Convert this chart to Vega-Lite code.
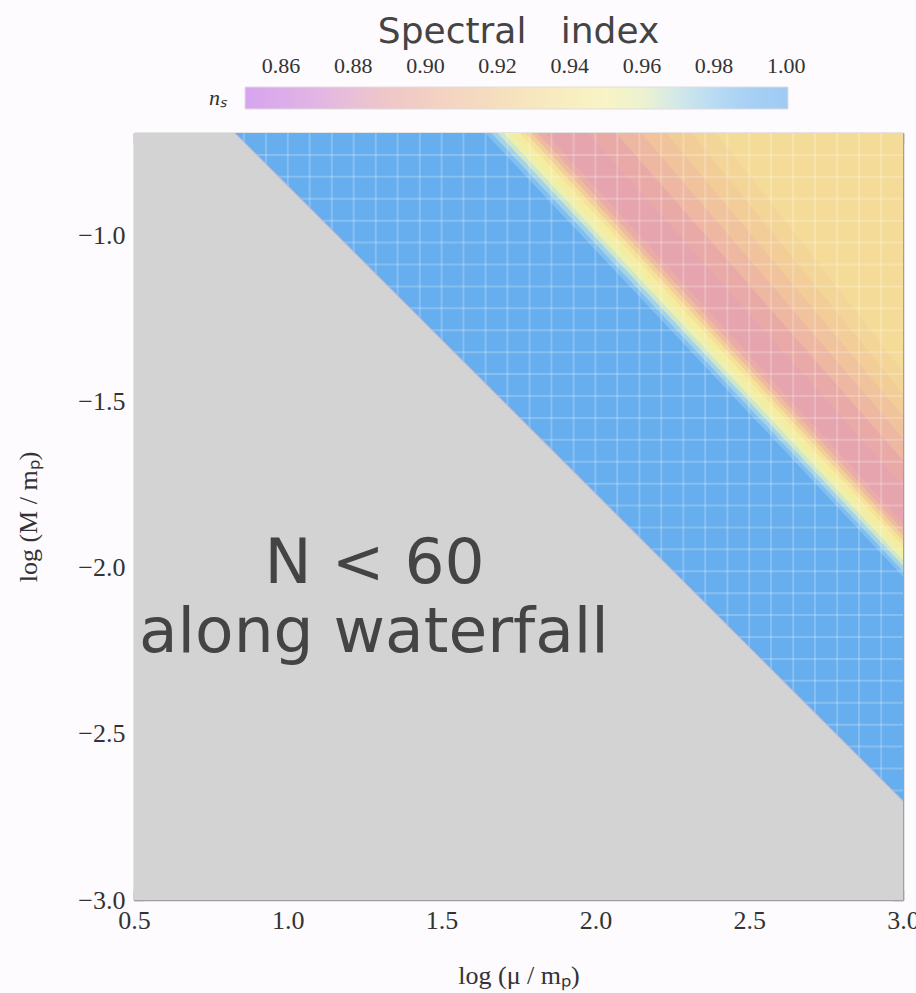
{
  "$schema": "https://vega.github.io/schema/vega-lite/v6.json",
  "width": 769,
  "height": 767,
  "autosize": {"type": "none"},
  "padding": {"left": 134, "top": 133, "right": 13, "bottom": 93},
  "background": "#fdfbfd",
  "config": {"view": {"stroke": null}},
  "title": {"text": "Spectral\u00a0\u00a0\u00a0index", "font": "DejaVu Sans", "fontSize": 36, "fontWeight": "normal", "color": "#444444", "anchor": "middle", "offset": 36},
  "datasets": {
    "gray": [
      {"y": -0.69, "xl": 0.3, "xr": 0.828},
      {"y": -3.0, "xl": 0.3, "xr": 3.322}
    ],
    "bands": [
      {"band": 0, "ns": 1.0, "y": -0.69, "xl": 0.828, "xr": 1.646},
      {"band": 0, "ns": 1.0, "y": -3.0, "xl": 3.322, "xr": 3.994},
      {"band": 1, "ns": 0.985, "y": -0.69, "xl": 1.642, "xr": 1.666},
      {"band": 1, "ns": 0.985, "y": -3.0, "xl": 3.990, "xr": 4.008},
      {"band": 2, "ns": 0.975, "y": -0.69, "xl": 1.662, "xr": 1.686},
      {"band": 2, "ns": 0.975, "y": -3.0, "xl": 4.004, "xr": 4.022},
      {"band": 3, "ns": 0.965, "y": -0.69, "xl": 1.682, "xr": 1.705},
      {"band": 3, "ns": 0.965, "y": -3.0, "xl": 4.018, "xr": 4.036},
      {"band": 4, "ns": 0.955, "y": -0.69, "xl": 1.701, "xr": 1.731},
      {"band": 4, "ns": 0.955, "y": -3.0, "xl": 4.032, "xr": 4.054},
      {"band": 5, "ns": 0.945, "y": -0.69, "xl": 1.727, "xr": 1.757},
      {"band": 5, "ns": 0.945, "y": -3.0, "xl": 4.050, "xr": 4.072},
      {"band": 6, "ns": 0.935, "y": -0.69, "xl": 1.753, "xr": 1.777},
      {"band": 6, "ns": 0.935, "y": -3.0, "xl": 4.068, "xr": 4.085},
      {"band": 7, "ns": 0.92, "y": -0.69, "xl": 1.773, "xr": 1.796},
      {"band": 7, "ns": 0.92, "y": -3.0, "xl": 4.081, "xr": 4.098},
      {"band": 8, "ns": 0.905, "y": -0.69, "xl": 1.792, "xr": 1.816},
      {"band": 8, "ns": 0.905, "y": -3.0, "xl": 4.094, "xr": 4.111},
      {"band": 9, "ns": 0.893, "y": -0.69, "xl": 1.812, "xr": 1.842},
      {"band": 9, "ns": 0.893, "y": -3.0, "xl": 4.107, "xr": 4.128},
      {"band": 10, "ns": 0.885, "y": -0.69, "xl": 1.838, "xr": 1.979},
      {"band": 10, "ns": 0.885, "y": -3.0, "xl": 4.124, "xr": 4.210},
      {"band": 11, "ns": 0.892, "y": -0.69, "xl": 1.975, "xr": 2.071},
      {"band": 11, "ns": 0.892, "y": -3.0, "xl": 4.206, "xr": 4.257},
      {"band": 12, "ns": 0.902, "y": -0.69, "xl": 2.067, "xr": 2.152},
      {"band": 12, "ns": 0.902, "y": -3.0, "xl": 4.253, "xr": 4.293},
      {"band": 13, "ns": 0.911, "y": -0.69, "xl": 2.148, "xr": 2.234},
      {"band": 13, "ns": 0.911, "y": -3.0, "xl": 4.289, "xr": 4.321},
      {"band": 14, "ns": 0.919, "y": -0.69, "xl": 2.230, "xr": 2.316},
      {"band": 14, "ns": 0.919, "y": -3.0, "xl": 4.317, "xr": 4.340},
      {"band": 15, "ns": 0.925, "y": -0.69, "xl": 2.312, "xr": 2.398},
      {"band": 15, "ns": 0.925, "y": -3.0, "xl": 4.336, "xr": 4.345},
      {"band": 16, "ns": 0.93, "y": -0.69, "xl": 2.394, "xr": 5.0},
      {"band": 16, "ns": 0.93, "y": -3.0, "xl": 4.341, "xr": 5.0}
    ],
    "meshx": [
      {"mx": 0.571}, {"mx": 0.643}, {"mx": 0.714}, {"mx": 0.786}, {"mx": 0.857}, {"mx": 0.929}, {"mx": 1.0},
      {"mx": 1.071}, {"mx": 1.143}, {"mx": 1.214}, {"mx": 1.286}, {"mx": 1.357}, {"mx": 1.429}, {"mx": 1.5},
      {"mx": 1.571}, {"mx": 1.643}, {"mx": 1.714}, {"mx": 1.786}, {"mx": 1.857}, {"mx": 1.929}, {"mx": 2.0},
      {"mx": 2.071}, {"mx": 2.143}, {"mx": 2.214}, {"mx": 2.286}, {"mx": 2.357}, {"mx": 2.429}, {"mx": 2.5},
      {"mx": 2.571}, {"mx": 2.643}, {"mx": 2.714}, {"mx": 2.786}, {"mx": 2.857}, {"mx": 2.929}
    ],
    "meshy": [
      {"my": -2.934}, {"my": -2.868}, {"my": -2.802}, {"my": -2.736}, {"my": -2.67}, {"my": -2.604}, {"my": -2.538},
      {"my": -2.472}, {"my": -2.406}, {"my": -2.34}, {"my": -2.274}, {"my": -2.208}, {"my": -2.142}, {"my": -2.076},
      {"my": -2.01}, {"my": -1.944}, {"my": -1.878}, {"my": -1.812}, {"my": -1.746}, {"my": -1.68}, {"my": -1.614},
      {"my": -1.548}, {"my": -1.482}, {"my": -1.416}, {"my": -1.35}, {"my": -1.284}, {"my": -1.218}, {"my": -1.152},
      {"my": -1.086}, {"my": -1.02}, {"my": -0.954}, {"my": -0.888}, {"my": -0.822}, {"my": -0.756}
    ],
    "edge": [
      {"bx": 0.828, "by": -0.69},
      {"bx": 3.322, "by": -3.0}
    ],
    "notes": [
      {"tx": 1.282, "ty": -2.045, "label": "N < 60"},
      {"tx": 1.280, "ty": -2.253, "label": "along waterfall"}
    ]
  },
  "layer": [
    {
      "data": {"name": "bands"},
      "mark": {"type": "area", "orient": "horizontal", "clip": true},
      "encoding": {
        "y": {"field": "y", "type": "quantitative", "axis": null},
        "x": {"field": "xl", "type": "quantitative", "stack": null, "axis": null},
        "x2": {"field": "xr"},
        "detail": {"field": "band", "type": "nominal"},
        "color": {
          "field": "ns", "type": "quantitative",
          "scale": {
            "domain": [0.85, 0.87, 0.88, 0.885, 0.89, 0.90, 0.91, 0.92, 0.93, 0.94, 0.95, 0.96, 0.97, 0.98, 0.99, 1.0, 1.0005],
            "range": ["#c070e8", "#d08cd4", "#dc9cc0", "#e6a4ae", "#e8a8a8", "#ecb4a2", "#f0c29c", "#f2ce98", "#f4dc98", "#f5e89c", "#f6f0a4", "#e4eeb4", "#b8dede", "#90c8f0", "#72b6f0", "#66aeee", "#66aeee"],
            "interpolate": "rgb"
          },
          "legend": {
            "orient": "none",
            "legendX": 75,
            "legendY": -46,
            "direction": "horizontal",
            "padding": 0,
            "gradientLength": 543,
            "gradientThickness": 22,
            "gradientOpacity": 0.62,
            "gradientStrokeColor": "#cccccc",
            "gradientStrokeWidth": 1,
            "values": [0.86, 0.88, 0.90, 0.92, 0.94, 0.96, 0.98, 1.0],
            "format": ".2f",
            "labelFont": "Liberation Serif",
            "labelFontSize": 22,
            "labelColor": "#333333",
            "labelOffset": -53,
            "labelOverlap": false,
            "title": "nₛ",
            "titleOrient": "left",
            "titleFont": "Liberation Serif",
            "titleFontStyle": "italic",
            "titleFontWeight": "normal",
            "titleFontSize": 22,
            "titleColor": "#333333",
            "titlePadding": 18
          }
        }
      }
    },
    {
      "data": {"name": "meshx"},
      "mark": {"type": "rule", "color": "#ffffff", "strokeWidth": 2, "opacity": 0.22},
      "encoding": {
        "x": {"field": "mx", "type": "quantitative", "axis": null}
      }
    },
    {
      "data": {"name": "meshy"},
      "mark": {"type": "rule", "color": "#ffffff", "strokeWidth": 2, "opacity": 0.22},
      "encoding": {
        "y": {"field": "my", "type": "quantitative", "axis": null}
      }
    },
    {
      "data": {"name": "gray"},
      "mark": {"type": "area", "orient": "horizontal", "clip": true, "color": "#d3d3d3", "opacity": 1},
      "encoding": {
        "y": {
          "field": "y", "type": "quantitative",
          "scale": {"domain": [-3.0, -0.69], "nice": false, "zero": false},
          "axis": {
            "orient": "left",
            "values": [-3.0, -2.9, -2.8, -2.7, -2.6, -2.5, -2.4, -2.3, -2.2, -2.1, -2.0, -1.9, -1.8, -1.7, -1.6, -1.5, -1.4, -1.3, -1.2, -1.1, -1.0, -0.9, -0.8, -0.7],
            "labelExpr": "abs(datum.value*2-round(datum.value*2))<0.001 ? format(datum.value,'.1f') : ''",
            "tickSize": {"condition": {"test": "abs(datum.value*2-round(datum.value*2))<0.001", "value": -10}, "value": -5},
            "labelPadding": 19,
            "labelFont": "Liberation Serif", "labelFontSize": 26, "labelColor": "#333333",
            "labelOverlap": false, "labelFlush": false,
            "title": "log (M / mₚ)",
            "titleFont": "Liberation Serif", "titleFontSize": 26, "titleFontWeight": "normal", "titleColor": "#333333",
            "titlePadding": 36,
            "domainColor": "#a0a0a0", "domainWidth": 1.5, "tickColor": "#a0a0a0", "tickWidth": 1.5,
            "grid": false
          }
        },
        "x": {
          "field": "xl", "type": "quantitative",
          "scale": {"domain": [0.5, 3.0], "nice": false, "zero": false},
          "axis": {
            "orient": "bottom",
            "values": [0.5, 0.6, 0.7, 0.8, 0.9, 1.0, 1.1, 1.2, 1.3, 1.4, 1.5, 1.6, 1.7, 1.8, 1.9, 2.0, 2.1, 2.2, 2.3, 2.4, 2.5, 2.6, 2.7, 2.8, 2.9, 3.0],
            "labelExpr": "abs(datum.value*2-round(datum.value*2))<0.001 ? format(datum.value,'.1f') : ''",
            "tickSize": {"condition": {"test": "abs(datum.value*2-round(datum.value*2))<0.001", "value": -10}, "value": -5},
            "labelPadding": 17,
            "labelFont": "Liberation Serif", "labelFontSize": 26, "labelColor": "#333333",
            "labelOverlap": false, "labelFlush": false,
            "title": "log (μ / mₚ)",
            "titleFont": "Liberation Serif", "titleFontSize": 26, "titleFontWeight": "normal", "titleColor": "#333333",
            "titlePadding": 24,
            "domainColor": "#a0a0a0", "domainWidth": 1.5, "tickColor": "#a0a0a0", "tickWidth": 1.5,
            "grid": false
          }
        },
        "x2": {"field": "xr"}
      }
    },
    {
      "data": {"name": "edge"},
      "mark": {"type": "line", "clip": true, "color": "#b4b4dc", "strokeWidth": 1.2, "opacity": 0.7},
      "encoding": {
        "x": {
          "field": "bx", "type": "quantitative",
          "axis": {
            "orient": "top",
            "values": [0.5, 0.6, 0.7, 0.8, 0.9, 1.0, 1.1, 1.2, 1.3, 1.4, 1.5, 1.6, 1.7, 1.8, 1.9, 2.0, 2.1, 2.2, 2.3, 2.4, 2.5, 2.6, 2.7, 2.8, 2.9, 3.0],
            "labels": false, "title": null,
            "tickSize": {"condition": {"test": "abs(datum.value*2-round(datum.value*2))<0.001", "value": -10}, "value": -5},
            "domainColor": "#a0a0a0", "domainWidth": 1.5, "tickColor": "#a0a0a0", "tickWidth": 1.5,
            "grid": false
          }
        },
        "y": {
          "field": "by", "type": "quantitative",
          "axis": {
            "orient": "right",
            "values": [-3.0, -2.9, -2.8, -2.7, -2.6, -2.5, -2.4, -2.3, -2.2, -2.1, -2.0, -1.9, -1.8, -1.7, -1.6, -1.5, -1.4, -1.3, -1.2, -1.1, -1.0, -0.9, -0.8, -0.7],
            "labels": false, "title": null,
            "tickSize": {"condition": {"test": "abs(datum.value*2-round(datum.value*2))<0.001", "value": -10}, "value": -5},
            "domainColor": "#a0a0a0", "domainWidth": 1.5, "tickColor": "#a0a0a0", "tickWidth": 1.5,
            "grid": false
          }
        }
      }
    },
    {
      "data": {"name": "notes"},
      "mark": {"type": "text", "font": "DejaVu Sans", "fontSize": 63, "color": "#444444", "align": "center", "baseline": "alphabetic"},
      "encoding": {
        "x": {"field": "tx", "type": "quantitative", "axis": null},
        "y": {"field": "ty", "type": "quantitative", "axis": null},
        "text": {"field": "label"}
      }
    }
  ],
  "resolve": {"axis": {"x": "independent", "y": "independent"}}
}
